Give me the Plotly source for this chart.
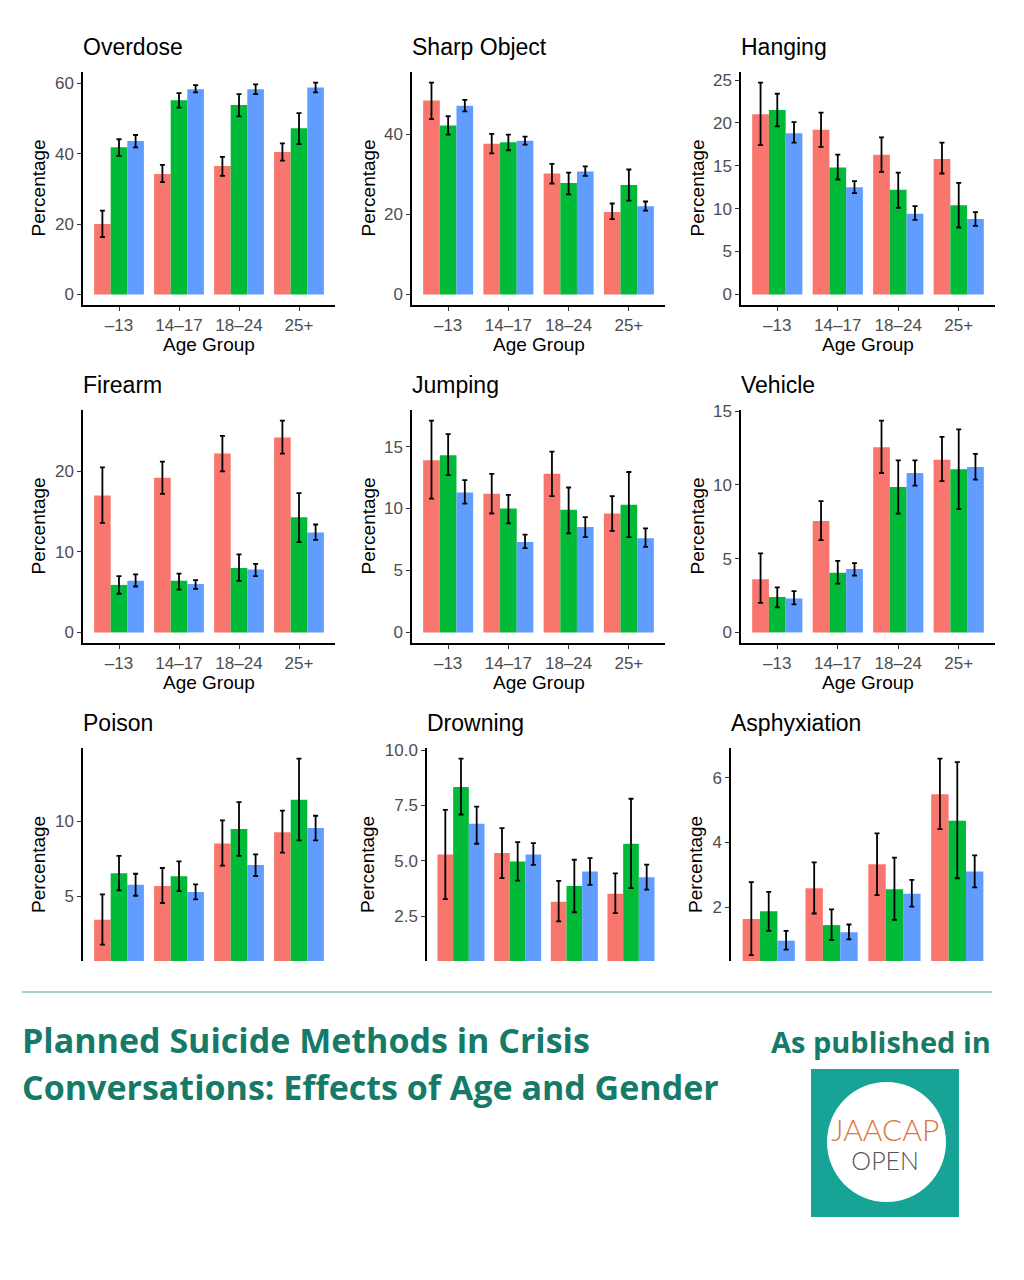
import plotly.graph_objects as go

age_groups = ["–13", "14–17", "18–24", "25+"]
gender_labels = ["Group 1", "Group 2", "Group 3"]
bar_colors = ["#F8766D", "#00BA38", "#619CFF"]

# each list: [red series, green series, blue series], one value per age group
overdose_mean = [[20.0, 34.2, 36.5, 40.5], [41.8, 55.2, 53.8, 47.2], [43.6, 58.3, 58.3, 58.8]]
overdose_upper = [[23.8, 36.8, 39.1, 42.9], [44.1, 57.2, 56.9, 51.5], [45.3, 59.5, 59.7, 60.2]]
overdose_lower = [[16.3, 31.9, 33.7, 38.0], [39.4, 53.1, 50.6, 42.7], [41.8, 57.4, 56.9, 57.4]]

sharp_mean = [[48.4, 37.6, 30.2, 20.6], [42.2, 38.0, 27.8, 27.3], [47.1, 38.4, 30.7, 22.0]]
sharp_upper = [[52.9, 40.1, 32.6, 22.7], [44.5, 39.9, 30.4, 31.2], [48.6, 39.4, 32.0, 23.2]]
sharp_lower = [[43.8, 35.2, 27.7, 18.8], [39.9, 36.0, 25.0, 23.4], [45.7, 37.4, 29.6, 20.9]]

hanging_mean = [[21.0, 19.2, 16.3, 15.8], [21.5, 14.8, 12.2, 10.4], [18.8, 12.5, 9.4, 8.8]]
hanging_upper = [[24.7, 21.2, 18.3, 17.7], [23.4, 16.3, 14.2, 13.0], [20.1, 13.2, 10.3, 9.6]]
hanging_lower = [[17.4, 17.2, 14.3, 14.1], [19.6, 13.4, 10.1, 7.8], [17.7, 11.8, 8.7, 8.0]]

firearm_mean = [[17.0, 19.2, 22.2, 24.2], [5.9, 6.4, 8.0, 14.3], [6.4, 6.0, 7.8, 12.4]]
firearm_upper = [[20.5, 21.2, 24.4, 26.3], [7.0, 7.3, 9.7, 17.3], [7.2, 6.5, 8.5, 13.4]]
firearm_lower = [[13.6, 17.2, 20.0, 22.2], [4.8, 5.3, 6.4, 11.2], [5.7, 5.4, 7.0, 11.5]]

jumping_mean = [[13.9, 11.2, 12.8, 9.6], [14.3, 10.0, 9.9, 10.3], [11.3, 7.3, 8.5, 7.6]]
jumping_upper = [[17.1, 12.8, 14.6, 11.0], [16.0, 11.1, 11.7, 12.95], [12.3, 7.9, 9.3, 8.4]]
jumping_lower = [[10.8, 9.6, 11.0, 8.2], [12.7, 8.8, 8.0, 7.7], [10.4, 6.8, 7.7, 6.9]]

vehicle_mean = [[3.6, 7.55, 12.55, 11.7], [2.4, 4.05, 9.85, 11.05], [2.3, 4.3, 10.8, 11.2]]
vehicle_upper = [[5.35, 8.9, 14.35, 13.25], [3.05, 4.85, 11.65, 13.75], [2.8, 4.7, 11.65, 12.1]]
vehicle_lower = [[2.0, 6.25, 10.8, 10.25], [1.7, 3.3, 8.05, 8.35], [1.9, 3.85, 9.95, 10.35]]

poison_mean = [[3.45, 5.69, 8.5, 9.25], [6.53, 6.33, 9.47, 11.42], [5.77, 5.29, 7.08, 9.54]]
poison_upper = [[5.13, 6.88, 10.04, 10.69], [7.68, 7.32, 11.26, 14.14], [6.5, 5.8, 7.79, 10.35]]
poison_lower = [[1.79, 4.56, 7.04, 7.9], [5.4, 5.35, 7.68, 8.72], [5.04, 4.8, 6.35, 8.72]]

drowning_mean = [[5.29, 5.35, 3.15, 3.52], [8.33, 4.97, 3.86, 5.77], [6.67, 5.29, 4.52, 4.26]]
drowning_upper = [[7.3, 6.48, 4.1, 4.43], [9.61, 5.84, 5.05, 7.8], [7.45, 5.8, 5.12, 4.83]]
drowning_lower = [[3.27, 4.22, 2.27, 2.64], [7.09, 4.11, 2.68, 3.77], [5.77, 4.82, 3.92, 3.7]]

asphyx_mean = [[1.63, 2.58, 3.32, 5.49], [1.87, 1.44, 2.55, 4.67], [0.96, 1.22, 2.41, 3.1]]
asphyx_upper = [[2.77, 3.38, 4.28, 6.59], [2.47, 1.93, 3.53, 6.48], [1.26, 1.46, 2.84, 3.6]]
asphyx_lower = [[0.51, 1.8, 2.37, 4.41], [1.26, 0.98, 1.6, 2.89], [0.68, 1.0, 2.01, 2.61]]

panels = [
    ("Overdose", overdose_mean, overdose_upper, overdose_lower, 20, ""),
    ("Sharp Object", sharp_mean, sharp_upper, sharp_lower, 20, ""),
    ("Hanging", hanging_mean, hanging_upper, hanging_lower, 5, ""),
    ("Firearm", firearm_mean, firearm_upper, firearm_lower, 10, ""),
    ("Jumping", jumping_mean, jumping_upper, jumping_lower, 5, ""),
    ("Vehicle", vehicle_mean, vehicle_upper, vehicle_lower, 5, ""),
    ("Poison", poison_mean, poison_upper, poison_lower, 5, ""),
    ("Drowning", drowning_mean, drowning_upper, drowning_lower, 2.5, ".1f"),
    ("Asphyxiation", asphyx_mean, asphyx_upper, asphyx_lower, 2, ""),
]

W, H = 1024, 1280
# plot-area boxes in pixels: left, right, top, bottom, y-title x
boxes = [
    (83, 335, 72, 305, 38), (412, 665, 72, 305, 368), (741, 995, 72, 305, 697),
    (83, 335, 410, 643, 38), (412, 665, 410, 643, 368), (741, 995, 410, 643, 697),
    (83, 335, 748, 961, 38), (427, 665, 748, 961, 367), (731, 995, 748, 961, 695),
]

def px(x):
    return x / W

def py(y):
    return 1 - y / H

AX_FONT = "Liberation Sans, Arial, sans-serif"
fig = go.Figure()
annotations = []

for i, (title, mean, upper, lower, dtick, fmt) in enumerate(panels):
    n = i + 1
    left, right, top, bottom, ytx = boxes[i]
    xa = "x" if n == 1 else f"x{n}"
    ya = "y" if n == 1 else f"y{n}"
    for g in range(3):
        fig.add_trace(go.Bar(
            x=age_groups, y=mean[g], name=gender_labels[g],
            marker=dict(color=bar_colors[g], line=dict(width=0)),
            error_y=dict(
                type="data", symmetric=False,
                array=[u - m for u, m in zip(upper[g], mean[g])],
                arrayminus=[m - l for m, l in zip(mean[g], lower[g])],
                color="black", thickness=1.8, width=2.5,
            ),
            xaxis=xa, yaxis=ya, showlegend=False,
        ))

    hi = max(max(s) for s in upper)
    pad = 0.05 * hi
    lo = -pad
    bottom_row = n >= 7
    if bottom_row:
        # bottom row is cut off in the source image
        lo = -pad + 0.091 * (hi + 2 * pad)

    xkey = "xaxis" if n == 1 else f"xaxis{n}"
    ykey = "yaxis" if n == 1 else f"yaxis{n}"
    fig.update_layout({
        xkey: dict(
            domain=[px(left), px(right)], anchor=ya, range=[-0.6, 3.6],
            visible=not bottom_row, showline=True, linecolor="black", linewidth=1.5,
            ticks="outside", ticklen=4, tickwidth=1.2, tickcolor="#333333",
            tickfont=dict(family=AX_FONT, size=17, color="#4D4D4D"),
            showgrid=False, zeroline=False, fixedrange=True, automargin=False,
        ),
        ykey: dict(
            domain=[py(bottom), py(top)], anchor=xa, range=[lo, hi + pad],
            dtick=dtick, tick0=0, tickformat=fmt,
            showline=True, linecolor="black", linewidth=1.5,
            ticks="outside", ticklen=4, tickwidth=1.2, tickcolor="#333333",
            tickfont=dict(family=AX_FONT, size=17, color="#4D4D4D"),
            showgrid=False, zeroline=False, fixedrange=True, automargin=False,
        ),
    })

    # panel title
    annotations.append(dict(
        text=title, x=px(left - 2), y=py(top - 25), xref="paper", yref="paper",
        xanchor="left", yanchor="middle", showarrow=False,
        font=dict(family=AX_FONT, size=23, color="black"),
    ))
    # y title
    ymid = (top + bottom) / 2 if not bottom_row else 865
    annotations.append(dict(
        text="Percentage", x=px(ytx), y=py(ymid), xref="paper", yref="paper",
        xanchor="center", yanchor="middle", textangle=-90, showarrow=False,
        font=dict(family=AX_FONT, size=19, color="black"),
    ))
    if not bottom_row:
        annotations.append(dict(
            text="Age Group", x=px((left + right) / 2), y=py(bottom + 39),
            xref="paper", yref="paper", xanchor="center", yanchor="middle",
            showarrow=False, font=dict(family=AX_FONT, size=19, color="black"),
        ))

TEAL_TXT = "#167A69"
HEAD_FONT = "Open Sans, sans-serif"
annotations += [
    dict(text="<b>Planned Suicide Methods in Crisis</b>", x=px(20), y=py(1040),
         xref="paper", yref="paper", xanchor="left", yanchor="middle", showarrow=False,
         font=dict(family=HEAD_FONT, size=34, color=TEAL_TXT)),
    dict(text="<b>Conversations: Effects of Age and Gender</b>", x=px(20), y=py(1087),
         xref="paper", yref="paper", xanchor="left", yanchor="middle", showarrow=False,
         font=dict(family=HEAD_FONT, size=34, color=TEAL_TXT)),
    dict(text="<b>As published in</b>", x=px(993), y=py(1041),
         xref="paper", yref="paper", xanchor="right", yanchor="middle", showarrow=False,
         font=dict(family=HEAD_FONT, size=29, color=TEAL_TXT)),
    dict(text=("<span style='font-size:30px;color:#D9773F'>JAACAP</span><br>"
               "<span style='font-size:25px;color:#555555'>OPEN</span>"),
         x=px(885), y=py(1143), xref="paper", yref="paper",
         xanchor="center", yanchor="middle", align="center", showarrow=False,
         font=dict(family="Lato, sans-serif", size=22, color="#555555", weight=300)),
]

shapes = [
    dict(type="line", xref="paper", yref="paper", x0=px(22), x1=px(992),
         y0=py(992), y1=py(992), line=dict(color="#4FA597", width=1.2)),
    dict(type="rect", xref="paper", yref="paper", x0=px(811), x1=px(959),
         y0=py(1217), y1=py(1069), fillcolor="#17A497", line=dict(width=0)),
    dict(type="circle", xref="paper", yref="paper", x0=px(827), x1=px(946),
         y0=py(1202), y1=py(1082), fillcolor="white", line=dict(width=0)),
]

fig.update_layout(
    width=W, height=H, margin=dict(l=0, r=0, t=0, b=0),
    paper_bgcolor="white", plot_bgcolor="white",
    barmode="group", bargap=0.17, bargroupgap=0,
    annotations=annotations, shapes=shapes, showlegend=False,
)

fig.write_html("out.html", config={"displayModeBar": False},
               post_script="document.body.style.margin='0';")
